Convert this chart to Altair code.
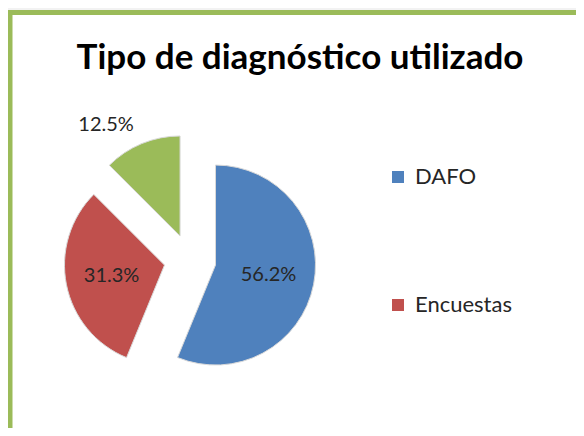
import altair as alt
import pandas as pd

categories = ["DAFO", "Encuestas", "Otros"]
values = [56.2, 31.3, 12.5]
colors = ["#4f81bd", "#c0504d", "#9bbb59"]
legend_values = ["DAFO", "Encuestas"]

df = pd.DataFrame({"category": categories, "value": values, "order": list(range(len(categories)))})

CX, CY = 182, 252      # pie centre (view coords)
R = 100                # pie radius
D = 26                 # explosion distance
L_IN, L_OUT = 54, 120  # label distance from slice apex

base = alt.Chart(df).transform_window(
    cum="sum(value)", sort=[alt.SortField("order")], frame=[None, 0]
).transform_joinaggregate(
    total="sum(value)"
).transform_calculate(
    t0="2*PI*(datum.cum - datum.value)/datum.total",
    t1="2*PI*datum.cum/datum.total",
    frac="datum.value/datum.total",
).transform_calculate(
    mid="(datum.t0 + datum.t1)/2",
).transform_calculate(
    cx=f"{CX} + {D}*sin(datum.mid)",
    cy=f"{CY} - {D}*cos(datum.mid)",
    lr=f"datum.frac < 0.2 ? {L_OUT} : {L_IN}",
    label="format(datum.value, '.1f') + '%'",
).transform_calculate(
    lx="datum.cx + datum.lr*sin(datum.mid)",
    ly="datum.cy - datum.lr*cos(datum.mid)",
)

frame = alt.Chart(pd.DataFrame({"a": [0]})).mark_rect(
    fill="white", stroke="#9bbb59", strokeWidth=5
).encode(x=alt.value(2), x2=alt.value(900), y=alt.value(4.5), y2=alt.value(900))

arcs = base.mark_arc(radius=R, stroke="#d9d9d9", strokeWidth=1).encode(
    theta=alt.Theta("t0:Q", scale=None, stack=None),
    theta2="t1:Q",
    x=alt.X("cx:Q", scale=None),
    y=alt.Y("cy:Q", scale=None),
    color=alt.Color(
        "category:N",
        scale=alt.Scale(domain=categories, range=colors),
        legend=alt.Legend(
            orient="none", legendX=379, legendY=158, values=legend_values,
            title=None, symbolType="square", symbolSize=144, symbolStrokeWidth=0,
            labelFont="Lato", labelFontSize=22, labelColor="#262626",
            rowPadding=106, symbolOffset=0, labelOffset=6,
        ),
    ),
)

labels_in = base.transform_filter("datum.frac >= 0.2").mark_text(
    font="Lato", fontSize=20, color="#262626", align="center", baseline="middle"
).encode(x=alt.X("lx:Q", scale=None), y=alt.Y("ly:Q", scale=None), text="label:N")

labels_out = base.transform_filter("datum.frac < 0.2").mark_text(
    font="Lato", fontSize=20, color="#262626", align="center", baseline="middle", dx=-28
).encode(x=alt.X("lx:Q", scale=None), y=alt.Y("ly:Q", scale=None), text="label:N")

chart = alt.layer(frame, arcs, labels_in, labels_out).properties(
    width=568, height=420,
    title=alt.TitleParams(
        "Tipo de diagnóstico utilizado", font="Lato", fontSize=35, fontWeight="bold",
        color="#000000", anchor="middle", dx=8, dy=96, offset=0, baseline="alphabetic",
    ),
    autosize=alt.AutoSizeParams(type="none"),
    padding=0,
    background="#f2f2f2",
).configure_view(stroke=None)

chart.save("out.html", embed_options={"renderer": "svg", "actions": False})
